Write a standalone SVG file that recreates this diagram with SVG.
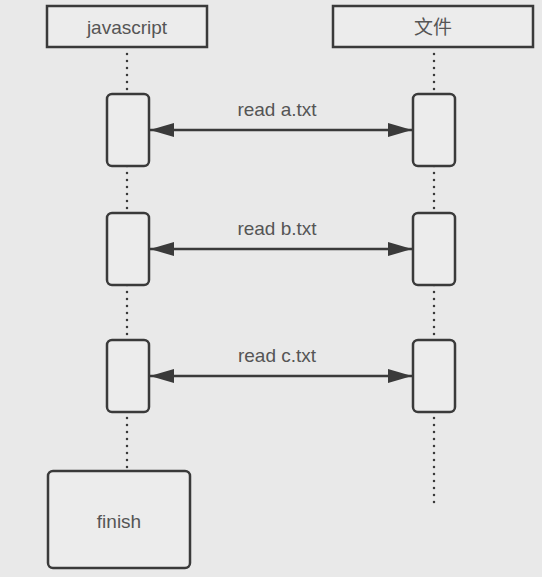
<svg xmlns="http://www.w3.org/2000/svg" width="542" height="577" viewBox="0 0 542 577">
<defs>
<style>
.box{fill:#ececec;stroke:#3a3a3a;stroke-width:2.5}
.life{stroke:#3a3a3a;stroke-width:2.5;stroke-dasharray:0 7;stroke-linecap:round;fill:none}
.msg{stroke:#3a3a3a;stroke-width:2.5;fill:none;marker-start:url(#ah);marker-end:url(#ah)}
text{font-family:"Liberation Sans","Noto Sans CJK SC",Arial,sans-serif;font-size:19px;fill:#555;text-anchor:middle}
</style>
<marker id="ah" viewBox="0 0 24 14" refX="24" refY="7" markerWidth="24" markerHeight="14" markerUnits="userSpaceOnUse" orient="auto-start-reverse">
<path d="M0,0 L24,7 L0,14 z" fill="#3a3a3a"/>
</marker>
</defs>
<rect width="542" height="577" fill="#e9e9e9"/>
<g id="lifelines">
<line class="life" x1="127" y1="54" x2="127" y2="468"/>
<line class="life" x1="434" y1="54" x2="434" y2="504"/>
</g>
<g id="connectors">
<line class="msg" x1="150" y1="130" x2="412" y2="130"/>
<line class="msg" x1="150" y1="249" x2="412" y2="249"/>
<line class="msg" x1="150" y1="376" x2="412" y2="376"/>
<text x="277" y="116">read a.txt</text>
<text x="277" y="235">read b.txt</text>
<text x="277" y="362">read c.txt</text>
</g>
<g id="javascript"><rect class="box" x="47" y="6" width="160" height="41"/><text x="127" y="34">javascript</text></g>
<g id="file"><rect class="box" x="333" y="6" width="200" height="41"/><text x="433" y="34">文件</text></g>
<g id="js-act1"><rect class="box" x="107" y="94" width="42" height="72" rx="5"/></g>
<g id="js-act2"><rect class="box" x="107" y="213" width="42" height="72" rx="5"/></g>
<g id="js-act3"><rect class="box" x="107" y="340" width="42" height="72" rx="5"/></g>
<g id="file-act1"><rect class="box" x="413" y="94" width="42" height="72" rx="5"/></g>
<g id="file-act2"><rect class="box" x="413" y="213" width="42" height="72" rx="5"/></g>
<g id="file-act3"><rect class="box" x="413" y="340" width="42" height="72" rx="5"/></g>
<g id="finish"><rect class="box" x="48" y="471" width="142" height="97" rx="5"/><text x="119" y="528">finish</text></g>
</svg>
